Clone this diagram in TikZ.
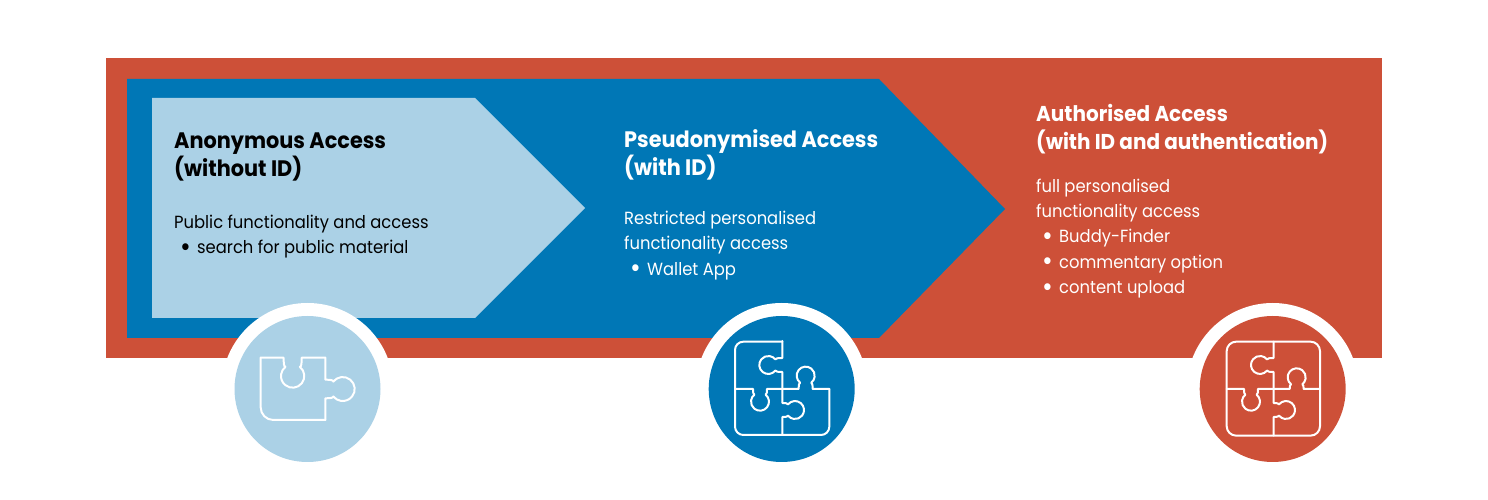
\documentclass[tikz,border=0pt]{standalone}
\usepackage{fontspec}
\setmainfont{Poppins}[FakeStretch=0.93]
\definecolor{redc}{HTML}{CD5038}
\definecolor{bluec}{HTML}{0077B6}
\definecolor{lightc}{HTML}{ABD1E6}
\newcommand{\knobedge}[7]{% x,y,rot,a,b,dist,r
\begin{scope}[shift={(#1,-#2)},rotate=#3]
\pgfmathsetmacro{\kn}{#7*0.62}
\pgfmathsetmacro{\kv}{#6-#7*0.78}
\pgfmathsetmacro{\kang}{atan2(-#7*0.78,-#7*0.62)+360}
\pgfmathsetmacro{\kend}{atan2(-#7*0.78,#7*0.62)}
\draw[iconline] (-#4,0) -- (-\kn*1.25,0) .. controls (-\kn*1.25,\kv*0.6) and (-\kn*1.2,\kv) .. (-\kn,\kv)
  arc[start angle=\kang, end angle=\kend, radius=#7]
  .. controls (\kn*1.2,\kv) and (\kn*1.25,\kv*0.6) .. (\kn*1.25,0) -- (#5,0);
\end{scope}}
\tikzset{
 iconline/.style={draw=white,line width=2pt,line cap=round,line join=round},
 iconscope/.style={x=1pt,y=1pt,scale=1/3},
 title/.style={anchor=north west,align=left,inner sep=0pt,font=\fontsize{22.4}{28}\selectfont\bfseries},
 titlesmall/.style={anchor=north west,align=left,inner sep=0pt,font=\fontsize{21.5}{28}\selectfont\bfseries},
 body/.style={anchor=north west,align=left,inner sep=0pt,font=\fontsize{17.6}{25.4}\selectfont},
 ring/.style={circle,fill=white,minimum size=172pt,inner sep=0pt},
 disc/.style={circle,minimum size=146pt,inner sep=0pt}
}
\newcommand{\bul}{\hspace*{6pt}\makebox[17pt][l]{\raisebox{-2.6pt}{\fontsize{28}{0}\selectfont •}}}
\begin{document}
\begin{tikzpicture}[x=1pt,y=1pt]
\useasboundingbox (0,0) rectangle (1488,500);
\fill[white] (0,0) rectangle (1488,500);
\fill[redc] (106,442) rectangle (1382,142);
\fill[bluec] (127,421) -- (879,421) -- (1005,291) -- (879,162) -- (127,162) -- cycle;
\fill[lightc] (152,402) -- (475,402) -- (585,292) -- (475,182) -- (152,182) -- cycle;
\node[ring] (r1) at (307.5,111) {};
\node[ring] (r2) at (781.7,111) {};
\node[ring] (r3) at (1272.7,111) {};
\node[disc,fill=lightc] (d1) at (r1) {};
\node[disc,fill=bluec] (d2) at (r2) {};
\node[disc,fill=redc] (d3) at (r3) {};
% icon 1
\begin{scope}[shift={(220,200)},iconscope]
\knobedge{218}{173}{180}{98}{96}{55}{35}
\knobedge{316}{267}{-90}{94}{93}{52}{36}
\draw[iconline] (316,-360) -- (160,-360) arc[start angle=270,end angle=180,radius=38] -- (122,-173);
\end{scope}
% icon 2
\begin{scope}[shift={(690,200)},iconscope]
\knobedge{277}{195}{90}{70}{72}{42}{27}
\knobedge{277}{330}{-90}{63}{75}{38}{27}
\knobedge{210}{267}{180}{67}{75}{38}{27}
\knobedge{347}{267}{0}{70}{71}{40}{27}
\draw[iconline] (277,-125) -- (160,-125) arc[start angle=90,end angle=180,radius=25] -- (135,-380) arc[start angle=180,end angle=270,radius=25] -- (393,-405) arc[start angle=270,end angle=360,radius=25] -- (418,-267);
\end{scope}
% icon 3
\begin{scope}[shift={(1180,200)},iconscope]
\knobedge{281}{195}{90}{72}{70}{41}{27}
\knobedge{281}{330}{-90}{63}{77}{37}{27}
\knobedge{213}{267}{180}{68}{73}{38}{27}
\knobedge{350}{267}{0}{69}{70}{35}{27}
\draw[iconline,rounded corners=9.5pt] (281,-125) -- (140,-125) -- (140,-407) -- (420,-407) -- (420,-125) -- cycle;
\end{scope}
% texts
\node[title,text=black] (t1) at (174,367) {Anonymous Access\\(without ID)};
\node[body,text=black] (b1) at (174,285.5) {Public functionality and access\\\bul search for public material};
\node[title,text=white] (t2) at (624,371) {Pseudonymised Access\\(with ID)};
\node[body,text=white] (b2) at (624,289) {Restricted personalised\\functionality access\\\bul Wallet App};
\node[titlesmall,text=white] (t3) at (1036,396) {Authorised Access\\(with ID and authentication)};
\node[body,text=white] (b3) at (1036,321.5) {full personalised\\functionality access\\\bul Buddy-Finder\\\bul commentary option\\\bul content upload};
\end{tikzpicture}
\end{document}
